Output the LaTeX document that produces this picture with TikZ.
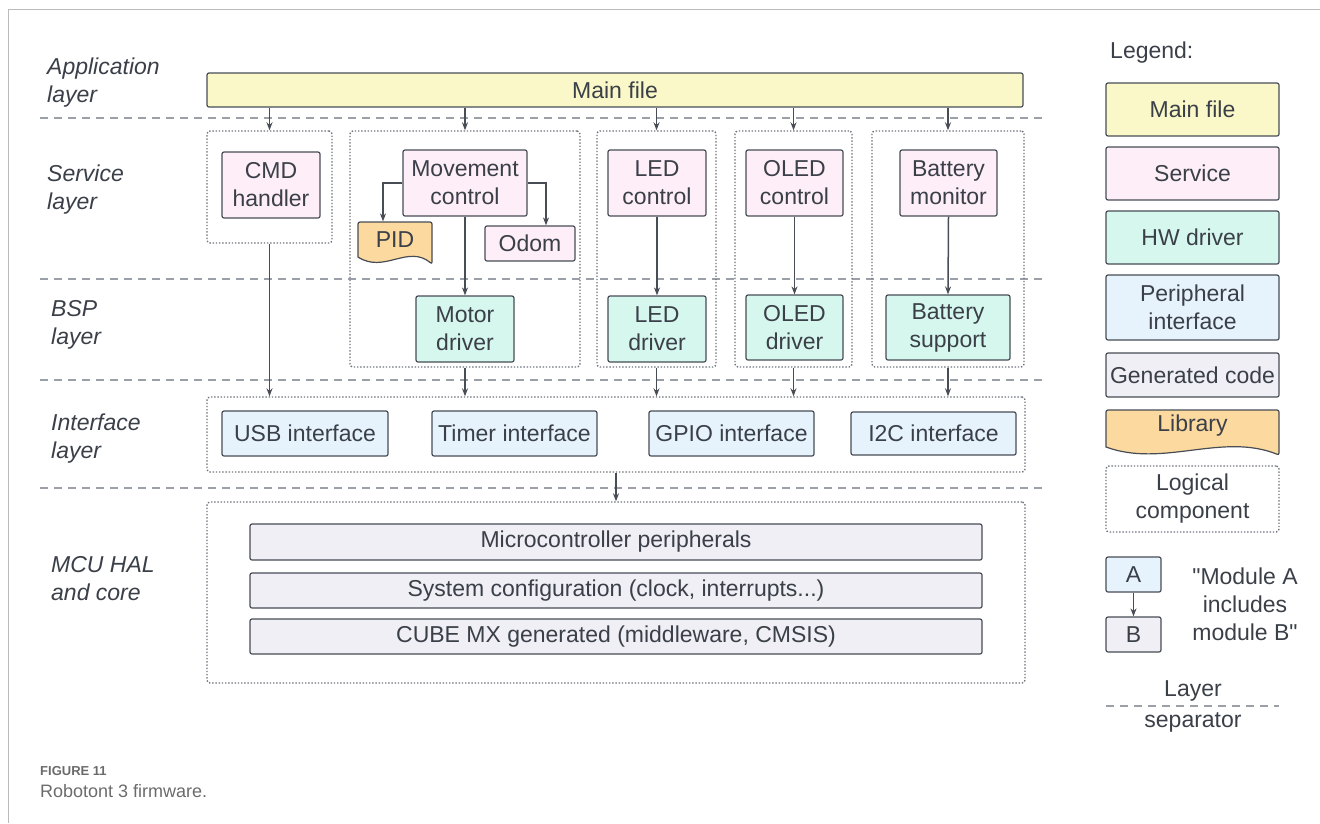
\documentclass[tikz,border=0pt]{standalone}
\usepackage{fontspec}
\setmainfont{Liberation Sans}[Ligatures=TeXOff]
\usetikzlibrary{arrows.meta}

\definecolor{linec}{HTML}{474C55}
\definecolor{textc}{HTML}{3A3F48}
\definecolor{sepc}{HTML}{9A9FA8}
\definecolor{dotc}{HTML}{6E737C}
\definecolor{mainc}{HTML}{FAF8C8}
\definecolor{servc}{HTML}{FDEEF8}
\definecolor{hwc}{HTML}{D6F7EE}
\definecolor{peric}{HTML}{E6F3FD}
\definecolor{genc}{HTML}{EFEFF5}
\definecolor{libc}{HTML}{FBD99F}
\definecolor{framec}{HTML}{BBBBBB}
\definecolor{captc}{HTML}{6B6B6B}

\tikzset{
  box/.style={draw=linec, line width=1.2pt, rounded corners=2pt, align=center, inner sep=0pt, text=textc, font=\fontsize{23}{28}\selectfont},
  mainbox/.style={box, fill=mainc},
  servbox/.style={box, fill=servc},
  hwbox/.style={box, fill=hwc},
  peribox/.style={box, fill=peric},
  genbox/.style={box, fill=genc},
  libtext/.style={box, draw=none},
  logicbox/.style={draw=dotc, line width=1.4pt, dash pattern=on 1.4pt off 1.8pt, rounded corners=3pt, inner sep=0pt},
  layertext/.style={anchor=west, align=left, inner sep=0pt, text=textc, font=\fontsize{23}{28}\selectfont\itshape},
  plaintext/.style={align=center, inner sep=0pt, text=textc, font=\fontsize{23}{28}\selectfont},
  sepline/.style={draw=sepc, line width=2pt, dash pattern=on 8pt off 6pt},
  libshape/.style={draw=linec, fill=libc, line width=1.2pt},
  incl/.style={draw=linec, line width=1.5pt, -{Stealth[length=8pt,width=6pt]}},
}

\begin{document}
\begin{tikzpicture}[x=1pt, y=-1pt]

    \useasboundingbox (0,0) rectangle (1320,823);
    \draw [framec, line width=1pt] (8,823) -- (8,9) -- (1320,9);

    % layer names
    \node [layertext] (applbl) at (47,83) {Application\\layer};
    \node [layertext] (servlbl) at (47,190) {Service\\layer};
    \node [layertext] (bsplbl) at (51,325) {BSP\\layer};
    \node [layertext] (iflbl) at (51,439) {Interface\\layer};
    \node [layertext] (mculbl) at (51,579) {MCU HAL\\and core};

    % layer separators
    \draw [sepline] (40,118) -- (1045,118);
    \draw [sepline] (40,279) -- (1045,279);
    \draw [sepline] (40,380) -- (1045,380);
    \draw [sepline] (40,488) -- (1045,488);

    % logical components
    \node [logicbox, minimum width=125, minimum height=112] (cmdgrp) at (269.5,187) {};
    \node [logicbox, minimum width=230, minimum height=236] (movgrp) at (465,249) {};
    \node [logicbox, minimum width=119, minimum height=236] (ledgrp) at (656.5,249) {};
    \node [logicbox, minimum width=117, minimum height=236] (oledgrp) at (793.5,249) {};
    \node [logicbox, minimum width=152, minimum height=236] (batgrp) at (948,249) {};
    \node [logicbox, minimum width=818, minimum height=75] (ifgrp) at (616,434.5) {};
    \node [logicbox, minimum width=818, minimum height=181] (mcugrp) at (616,592.5) {};

    % application layer
    \node [mainbox, minimum width=816, minimum height=34] (mainfile) at (615,90) {Main file};

    % service layer
    \node [servbox, minimum width=98, minimum height=66] (cmd) at (271,185) {CMD\\handler};
    \node [servbox, minimum width=124, minimum height=66] (movctl) at (465,183) {Movement\\control};
    \draw [libshape, rounded corners=2pt] (358,257) -- (358,222) -- (432,222) -- (432,264)
        [sharp corners] .. controls (408,244) and (384,274) .. (358,257) -- cycle;
    \node [libtext, minimum width=74, minimum height=35] (pid) at (395,239.5) {PID};
    \node [servbox, minimum width=90, minimum height=35] (odom) at (530,243.5) {Odom};
    \node [servbox, minimum width=98, minimum height=66] (ledctl) at (657,183) {LED\\control};
    \node [servbox, minimum width=97, minimum height=66] (oledctl) at (794.5,183) {OLED\\control};
    \node [servbox, minimum width=97, minimum height=66] (batmon) at (948.5,183) {Battery\\monitor};

    % BSP layer
    \node [hwbox, minimum width=98, minimum height=66] (motor) at (465,329) {Motor\\driver};
    \node [hwbox, minimum width=98, minimum height=66] (leddrv) at (657,329) {LED\\driver};
    \node [hwbox, minimum width=97, minimum height=65] (oleddrv) at (794.5,327.5) {OLED\\driver};
    \node [hwbox, minimum width=124, minimum height=65] (batsup) at (948,327.5) {Battery\\support};

    % interface layer
    \node [peribox, minimum width=166, minimum height=45] (usb) at (305,433.5) {USB interface};
    \node [peribox, minimum width=165, minimum height=45] (timer) at (514.5,433.5) {Timer interface};
    \node [peribox, minimum width=165, minimum height=45] (gpio) at (731.5,433.5) {GPIO interface};
    \node [peribox, minimum width=165, minimum height=43] (i2c) at (933.5,433.5) {I2C interface};

    % MCU HAL and core
    \node [genbox, minimum width=732, minimum height=36] (periph) at (616,542) {Microcontroller peripherals};
    \node [genbox, minimum width=732, minimum height=35] (sysconf) at (616,590.5) {System configuration (clock, interrupts...)};
    \node [genbox, minimum width=732, minimum height=35] (cubemx) at (616,636.5) {CUBE MX generated (middleware, CMSIS)};

    % includes
    \foreach \g in {cmdgrp, movgrp, ledgrp, oledgrp, batgrp}
        \draw [incl] (mainfile.south -| \g.north) -- (\g.north);
    \draw [incl] (cmdgrp.south) -- (cmdgrp.south |- ifgrp.north);
    \draw [incl] (movctl.west) -| ([xshift=-12pt]pid.north);
    \draw [incl] (movctl.east) -| ([xshift=16pt]odom.north);
    \draw [incl] (movctl.south) -- (motor.north);
    \draw [incl] (ledctl.south) -- (leddrv.north);
    \draw [incl] (oledctl.south) -- (oleddrv.north);
    \draw [incl] (batmon.south) -- (batsup.north);
    \foreach \g in {movgrp, ledgrp, oledgrp, batgrp}
        \draw [incl] (\g.south) -- (\g.south |- ifgrp.north);
    \draw [incl] (ifgrp.south) -- (mcugrp.north);

    % legend
    \node [plaintext, anchor=west] (legtitle) at (1110,53) {Legend:};
    \node [mainbox, minimum width=173, minimum height=53] (lmain) at (1192.5,109.5) {Main file};
    \node [servbox, minimum width=173, minimum height=53] (lserv) at (1192.5,173.5) {Service};
    \node [hwbox, minimum width=173, minimum height=53] (lhw) at (1192.5,237.5) {HW driver};
    \node [peribox, minimum width=173, minimum height=65] (lperi) at (1192.5,307.5) {Peripheral\\interface};
    \node [genbox, minimum width=173, minimum height=44] (lgen) at (1192.5,375) {Generated code};
    \draw [libshape, rounded corners=2pt] (1106,447) -- (1106,410) -- (1279,410) -- (1279,455)
        [sharp corners] .. controls (1222,432) and (1163,468) .. (1106,447) -- cycle;
    \node [libtext, minimum width=173, minimum height=32] (llib) at (1192.5,426) {Library};
    \node [logicbox, minimum width=173, minimum height=66, align=center, text=textc,
        font=\fontsize{23}{28}\selectfont] (llogic) at (1192.5,499) {Logical\\component};
    \node [peribox, minimum width=55, minimum height=35] (la) at (1133.5,574.5) {A};
    \node [genbox, minimum width=55, minimum height=35] (lb) at (1133.5,634.5) {B};
    \draw [incl] (la.south) -- (lb.north);
    \node [plaintext] (lincl) at (1245,604) {"Module A\\includes\\module B"};
    \node [plaintext] (lsep) at (1193,691) {Layer};
    \draw [sepline, line width=1.5pt] (1106,706) -- (1279,706);
    \node [plaintext] (lsep2) at (1193,722) {separator};

    % caption
    \node [anchor=west, inner sep=0pt, text=captc, font=\fontsize{13}{15}\selectfont\bfseries] (figno) at (40,771) {FIGURE 11};
    \node [anchor=west, inner sep=0pt, text=captc, font=\fontsize{18}{22}\selectfont] (figcap) at (40,791) {Robotont 3 firmware.};

\end{tikzpicture}
\end{document}
